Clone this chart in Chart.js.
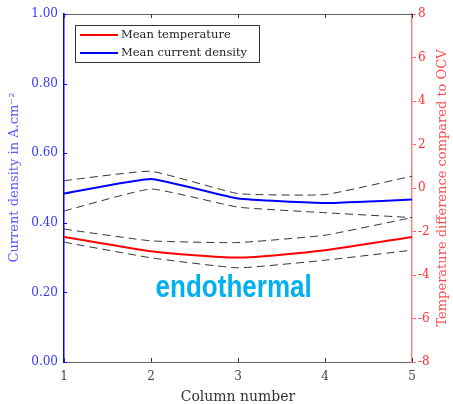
<!DOCTYPE html>
<html>
<head>
<meta charset="utf-8">
<script src="https://cdn.jsdelivr.net/npm/chart.js@4/dist/chart.umd.min.js"></script>
<style>
  html, body { margin: 0; padding: 0; background: #fff; }
</style>
</head>
<body>
<canvas id="chart" width="453" height="404"></canvas>
<script>
// column positions along the cell
const columns = [1, 2, 3, 4, 5]

// current density (A.cm-2), mean and spread
const meanCurrent = [0.484, 0.526, 0.470, 0.457, 0.467]
const currentUpper = [0.521, 0.548, 0.484, 0.481, 0.534]
const currentLower = [0.434, 0.497, 0.445, 0.429, 0.415]

// temperature difference vs OCV, mean and spread
const meanTemp = [-2.25, -2.91, -3.20, -2.86, -2.25]
const tempUpper = [-1.89, -2.43, -2.51, -2.17, -1.36]
const tempLower = [-2.49, -3.21, -3.67, -3.32, -2.86]

const serif = "'DejaVu Serif', serif"

const pts = (ys) => columns.map((x, i) => ({ x, y: ys[i] }))

const dashed = (data, axis) => ({
  label: "", data: pts(data), yAxisID: axis,
  borderColor: "#333", borderWidth: 1, borderDash: [8, 5],
  pointRadius: 0, tension: 0.12, fill: false
})

// frame, inward ticks, axis titles, legend box and annotation
const decorations = {
  id: "decorations",
  afterDraw(chart) {
    const { ctx, chartArea: a, scales } = chart
    const x = scales.x, yl = scales.yCurrent, yr = scales.yTemp
    ctx.save()

    // top border
    ctx.strokeStyle = "#666"
    ctx.lineWidth = 1
    ctx.beginPath()
    ctx.moveTo(a.left, a.top + 0.5)
    ctx.lineTo(a.right, a.top + 0.5)
    ctx.stroke()

    // x ticks pointing inward, top and bottom
    ctx.strokeStyle = "#333"
    x.ticks.forEach(t => {
      const px = Math.round(x.getPixelForValue(t.value)) + 0.5
      ctx.beginPath()
      ctx.moveTo(px, a.bottom); ctx.lineTo(px, a.bottom - 4)
      ctx.moveTo(px, a.top); ctx.lineTo(px, a.top + 4)
      ctx.stroke()
    })

    // left axis ticks pointing inward
    ctx.strokeStyle = "#0000ff"
    yl.ticks.forEach(t => {
      const py = Math.round(yl.getPixelForValue(t.value)) + 0.5
      ctx.beginPath()
      ctx.moveTo(a.left, py); ctx.lineTo(a.left + 3, py)
      ctx.stroke()
    })

    // y axis titles, both reading bottom to top
    ctx.textAlign = "center"
    ctx.textBaseline = "middle"
    const vtitle = (text, cx, cy, color, size) => {
      ctx.save()
      ctx.fillStyle = color
      ctx.font = size + "px " + serif
      ctx.translate(cx, cy)
      ctx.rotate(-Math.PI / 2)
      ctx.fillText(text, 0, 0)
      ctx.restore()
    }
    vtitle("Current density in A.cm\u207B\u00B2", 15, yl.getPixelForValue(0.53), "#5a5aff", 13)
    vtitle("Temperature difference compared to OCV", 443, (a.top + a.bottom) / 2, "#ff5050", 13)

    // legend
    const lx = a.left + 11, ly = a.top + 11
    ctx.fillStyle = "#fff"
    ctx.fillRect(lx, ly, 184, 37)
    ctx.strokeStyle = "#333"
    ctx.lineWidth = 1
    ctx.strokeRect(lx + 0.5, ly + 0.5, 184, 37)
    const entries = [
      ["Mean temperature", "#ff0000"],
      ["Mean current density", "#0000ff"]
    ]
    ctx.font = "11.5px " + serif
    ctx.textAlign = "left"
    entries.forEach(([text, color], i) => {
      const ey = ly + 10 + i * 18
      ctx.strokeStyle = color
      ctx.lineWidth = 2
      ctx.beginPath()
      ctx.moveTo(lx + 5, ey); ctx.lineTo(lx + 43, ey)
      ctx.stroke()
      ctx.fillStyle = "#222"
      ctx.fillText(text, lx + 46, ey)
    })

    // annotation
    ctx.fillStyle = "#00b0f0"
    ctx.font = "bold 31px 'Liberation Sans', Arial, sans-serif"
    ctx.textAlign = "center"
    ctx.textBaseline = "alphabetic"
    ctx.translate(x.getPixelForValue(2.95), yr.getPixelForValue(-5.0))
    ctx.scale(0.84, 1)
    ctx.fillText("endothermal", 0, 0)
    ctx.restore()
  }
}

new Chart(document.getElementById("chart"), {
  type: "line",
  data: {
    datasets: [
      { label: "Mean temperature", data: pts(meanTemp), yAxisID: "yTemp",
        borderColor: "#ff0000", borderWidth: 2, pointRadius: 0, tension: 0.2 },
      { label: "Mean current density", data: pts(meanCurrent), yAxisID: "yCurrent",
        borderColor: "#0000ff", borderWidth: 2, pointRadius: 0, tension: 0.12 },
      dashed(currentUpper, "yCurrent"),
      dashed(currentLower, "yCurrent"),
      dashed(tempUpper, "yTemp"),
      dashed(tempLower, "yTemp")
    ]
  },
  options: {
    responsive: false,
    animation: false,
    devicePixelRatio: 1,
    layout: { padding: { top: 14, left: 0, right: 0, bottom: 0 } },
    plugins: { legend: { display: false }, tooltip: { enabled: false } },
    scales: {
      x: {
        type: "linear", min: 1, max: 5,
        afterFit: (s) => { s.height = 42 },
        grid: { display: true, drawOnChartArea: false, drawTicks: false },
        border: { color: "#666", width: 1 },
        ticks: { stepSize: 1, color: "#444", padding: 8, font: { family: serif, size: 12 } },
        title: { display: true, text: "Column number", color: "#333",
                 font: { family: serif, size: 14 }, padding: { top: 0, bottom: -2 } }
      },
      yCurrent: {
        position: "left", min: 0, max: 1,
        afterFit: (s) => { s.width = 64 },
        grid: { display: true, drawOnChartArea: false, drawTicks: false },
        border: { color: "#0000ff", width: 1.5 },
        ticks: { stepSize: 0.2, color: "#3a3aff", padding: 6,
                 font: { family: serif, size: 12 },
                 callback: (v) => v.toFixed(2) }
      },
      yTemp: {
        position: "right", min: -8, max: 8,
        afterFit: (s) => { s.width = 41 },
        grid: { display: true, drawOnChartArea: false, drawTicks: true, tickLength: 4, color: "#ff6060" },
        border: { color: "#ff8080", width: 1.5 },
        ticks: { stepSize: 2, color: "#ff3030", padding: 2,
                 font: { family: serif, size: 12 } }
      }
    }
  },
  plugins: [decorations]
})
</script>
</body>
</html>
